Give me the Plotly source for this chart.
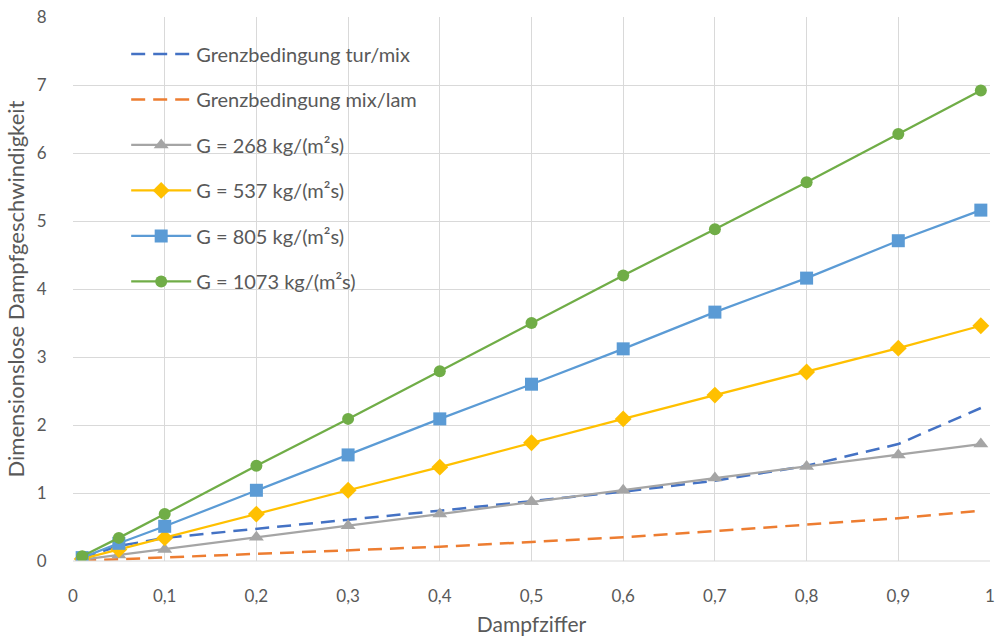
import plotly.graph_objects as go

x = [0.01, 0.05, 0.1, 0.2, 0.3, 0.4, 0.5, 0.6, 0.7, 0.8, 0.9, 0.99]

tur_mix = [0.05, 0.22, 0.34, 0.47, 0.60, 0.74, 0.88, 1.02, 1.18, 1.40, 1.72, 2.25]
mix_lam = [0.005, 0.025, 0.05, 0.10, 0.15, 0.21, 0.28, 0.35, 0.44, 0.53, 0.63, 0.74]
g268 = [0.02, 0.09, 0.17, 0.35, 0.52, 0.69, 0.87, 1.04, 1.22, 1.39, 1.56, 1.72]
g537 = [0.03, 0.17, 0.34, 0.69, 1.04, 1.38, 1.74, 2.09, 2.44, 2.78, 3.13, 3.46]
g805 = [0.05, 0.26, 0.51, 1.04, 1.56, 2.09, 2.60, 3.12, 3.66, 4.16, 4.71, 5.16]
g1073 = [0.07, 0.34, 0.69, 1.40, 2.09, 2.79, 3.50, 4.20, 4.88, 5.57, 6.28, 6.92]

names = ["Grenzbedingung tur/mix", "Grenzbedingung mix/lam",
         "G = 268 kg/(m²s)", "G = 537 kg/(m²s)", "G = 805 kg/(m²s)", "G = 1073 kg/(m²s)"]

fig = go.Figure()
fig.add_trace(go.Scatter(x=x, y=tur_mix, mode="lines", name=names[0], legendgroup="a",
                         line=dict(color="#4472C4", width=2.5, dash="14px,8px")))
fig.add_trace(go.Scatter(x=x, y=mix_lam, mode="lines", name=names[1], legendgroup="b",
                         line=dict(color="#ED7D31", width=2.5, dash="14px,8px")))
fig.add_trace(go.Scatter(x=x, y=g268, mode="lines+markers", name=names[2], legendgroup="c",
                         line=dict(color="#A5A5A5", width=2.25),
                         marker=dict(symbol="triangle-up", size=13, color="#A5A5A5")))
fig.add_trace(go.Scatter(x=x, y=g537, mode="lines+markers", name=names[3], legendgroup="d",
                         line=dict(color="#FFC000", width=2.25),
                         marker=dict(symbol="diamond", size=13, color="#FFC000")))
fig.add_trace(go.Scatter(x=x, y=g805, mode="lines+markers", name=names[4], legendgroup="e",
                         line=dict(color="#5B9BD5", width=2.25),
                         marker=dict(symbol="square", size=13, color="#5B9BD5")))
fig.add_trace(go.Scatter(x=x, y=g1073, mode="lines+markers", name=names[5], legendgroup="f",
                         line=dict(color="#70AD47", width=2.25),
                         marker=dict(symbol="circle", size=12, color="#70AD47")))

font_family = "Lato, 'Open Sans', sans-serif"
fig.update_layout(
    width=997, height=637,
    margin=dict(l=73, r=7, t=17, b=76),
    paper_bgcolor="white", plot_bgcolor="white",
    separators=",.",
    font=dict(family=font_family, size=17, color="#595959"),
    showlegend=True,
    legend=dict(x=0.058, y=0.968, xanchor="left", yanchor="top",
                bgcolor="rgba(255,255,255,0)", font=dict(size=20, color="#595959"),
                tracegroupgap=16.5, itemwidth=60),
    xaxis=dict(range=[0, 1], tick0=0, dtick=0.1, showgrid=True, gridcolor="#D9D9D9",
               gridwidth=1, zeroline=False, showline=False, automargin=False,
               ticks="outside", ticklen=20, tickcolor="rgba(0,0,0,0)",
               tickfont=dict(size=17, color="#595959"),
               title=dict(text="Dampfziffer", font=dict(size=21, color="#595959"), standoff=11)),
    yaxis=dict(range=[0, 8], tick0=0, dtick=1, showgrid=True, gridcolor="#D9D9D9",
               gridwidth=1, zeroline=False, showline=False, automargin=False,
               ticks="outside", ticklen=22, tickcolor="rgba(0,0,0,0)",
               tickfont=dict(size=17, color="#595959"),
               title=dict(text="Dimensionslose Dampfgeschwindigkeit",
                          font=dict(size=22, color="#595959"), standoff=6)),
)
fig.add_shape(type="line", xref="paper", yref="paper", x0=0, x1=1, y0=0, y1=0,
              line=dict(color="#D9D9D9", width=1))

fig.write_html("out.html")
